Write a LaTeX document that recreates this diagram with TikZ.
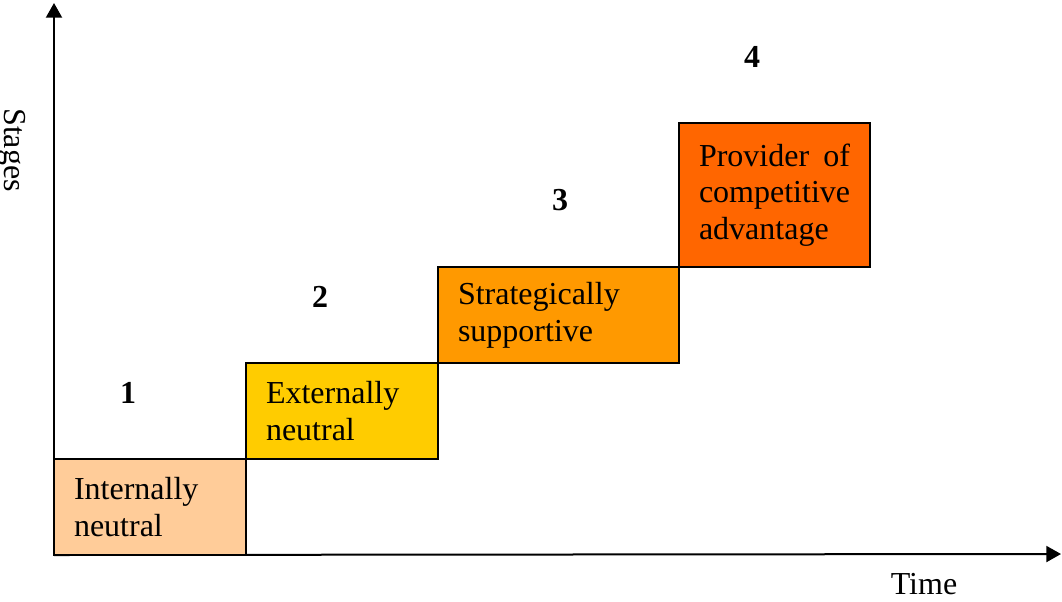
\documentclass[tikz,border=0pt]{standalone}
\usepackage{fontspec}
\setmainfont{Liberation Serif}
\usetikzlibrary{arrows.meta}

\begin{document}
\begin{tikzpicture}[x=0.75pt, y=-0.75pt]
    \tikzstyle{stage box}=[
        draw = black,
        line width = 1.5pt,
        minimum height = 72pt,
        inner xsep = 15pt,
        align = left,
        font = \fontsize{24}{27.5}\selectfont
    ]
    \tikzstyle{stage num}=[
        font = \fontsize{24}{27.5}\selectfont\bfseries
    ]
    \tikzstyle{axis}=[
        line width = 1.5pt,
        -{Triangle[length=11pt, width=12pt]}
    ]
    \useasboundingbox (0, 0) rectangle (1062, 601);

    % axes
    \coordinate (o)    at (54, 555);
    \coordinate (ytip) at (54, 3);
    \coordinate (xtip) at (1061, 554);
    \draw[axis] (o) -- (ytip);
    \draw[axis] (o) -- (xtip);

    \node[font=\fontsize{24}{27.5}\selectfont, rotate=-90] (stages) at (12, 150) {Stages};
    \node[font=\fontsize{24}{27.5}\selectfont]             (time)   at (924, 584) {Time};

    % the four steps
    \node[stage box, fill={rgb,255:red,255;green,204;blue,153}, minimum width=144pt, text width=114pt]
        (b1) at (150, 507)   {Internally\\neutral};
    \node[stage box, fill={rgb,255:red,255;green,204;blue,0}, minimum width=144pt, text width=114pt]
        (b2) at (342, 411)   {Externally\\neutral};
    \node[stage box, fill={rgb,255:red,255;green,153;blue,0}, minimum width=180.75pt, text width=150.75pt]
        (b3) at (558.5, 315) {Strategically\\supportive};
    \node[stage box, fill={rgb,255:red,255;green,102;blue,0}, minimum width=143.25pt, minimum height=108pt, text width=113.25pt]
        (b4) at (774.5, 195) {Provider \hfill of\\competitive\\advantage};

    \node[stage num] (n1) at (128, 393) {1};
    \node[stage num] (n2) at (320, 297) {2};
    \node[stage num] (n3) at (560, 200) {3};
    \node[stage num] (n4) at (752, 57)  {4};

\end{tikzpicture}
\end{document}
